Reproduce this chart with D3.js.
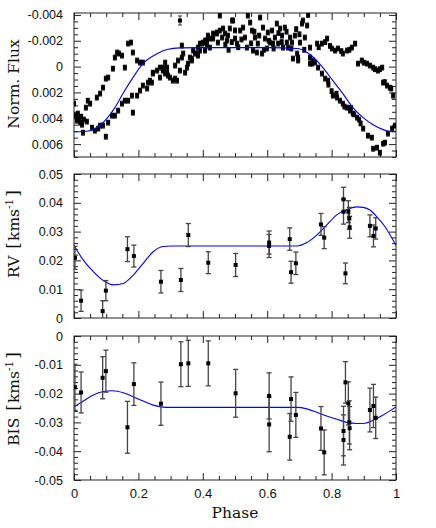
<!DOCTYPE html>
<html>
<head>
<meta charset="utf-8">
<script src="https://cdn.jsdelivr.net/npm/d3@7/dist/d3.min.js"></script>
<style>
  html, body { margin: 0; padding: 0; background: #fff; }
  svg { display: block; }
</style>
</head>
<body>
<div id="chart"></div>
<script>
// ---------------- DATA ----------------
// Photometry (normalised flux vs phase)
const fluxPhase = [
  0.000,0.006,0.009,0.012,0.016,0.019,0.022,0.025,0.028,0.031,0.037,0.043,0.050,0.040,0.056,0.065,0.075,0.081,0.090,0.099,
  0.071,0.081,0.090,0.099,0.106,0.121,0.127,0.134,0.140,0.149,0.158,0.168,0.177,0.183,0.196,0.205,0.214,
  0.106,0.118,0.127,0.137,0.149,0.158,0.168,0.180,0.183,0.196,0.205,0.214,0.227,0.230,0.236,0.242,0.245,0.258,0.267,0.276,
  0.283,0.289,0.298,0.307,0.314,0.320,0.329,0.335,0.345,0.354,0.366,0.376,0.385,0.391,0.398,0.407,0.413,0.422,0.432,0.444,
  0.245,0.267,0.276,0.283,0.289,0.292,0.314,0.323,0.335,0.339,0.351,0.360,0.366,0.370,0.382,0.385,0.391,0.401,0.407,0.413,
  0.416,0.422,0.432,0.444,0.447,0.453,0.460,0.463,0.469,0.475,0.478,0.484,0.491,0.453,
  0.494,0.500,0.506,0.516,0.525,0.531,0.537,0.540,0.547,0.553,0.556,0.562,0.568,0.571,0.578,0.584,0.587,0.593,0.599,0.602,
  0.609,0.615,0.618,0.624,0.630,0.634,0.640,0.646,0.649,0.655,0.661,0.665,0.671,0.677,0.680,0.686,0.693,0.696,0.702,0.708,
  0.711,0.717,0.724,0.727,0.733,0.739,0.742,
  0.470,0.480,0.490,0.500,0.510,0.520,0.550,0.560,0.575,0.590,0.605,0.620,0.635,0.645,0.660,0.675,0.690,0.700,0.715,
  0.696,0.733,0.748,0.758,0.770,0.780,0.789,0.804,0.817,0.826,0.835,0.848,0.857,0.866,0.879,0.898,0.913,0.925,0.929,0.941,
  0.950,0.960,0.966,0.975,0.988,0.997,
  0.733,0.755,0.770,0.786,0.801,0.811,0.820,0.835,0.848,0.863,0.873,0.882,0.894,0.910,0.919,0.929,0.944,0.957,0.960,0.972,
  0.981,0.991,
  0.790,0.800,0.815,0.840,0.860,0.870,0.885,0.890,
  0.760,0.780,0.795,0.830,0.855,0.900,0.935,0.950,0.965,0.985
];
const fluxValue = [
  0.00287,0.00380,0.00419,0.00364,0.00403,0.00434,0.00388,0.00450,0.00512,0.00410,0.00318,0.00264,0.00287,0.00426,0.00473,0.00496,0.00480,0.00457,0.00457,0.00543,
  0.00240,0.00209,0.00163,0.00093,0.00085,0.00016,-0.00070,-0.00109,-0.00101,-0.00085,0.00008,-0.00178,-0.00186,-0.00109,-0.00047,-0.00031,-0.00031,
  0.00434,0.00380,0.00380,0.00341,0.00287,0.00264,0.00264,0.00225,0.00357,0.00225,0.00186,0.00147,0.00170,0.00124,0.00109,0.00124,0.00047,0.00031,0.00008,0.00031,
  0.00054,0.00008,0.00085,0.00109,0.00093,0.00109,0.00031,-0.00070,0.00047,-0.00023,-0.00062,-0.00101,-0.00085,-0.00124,-0.00178,-0.00202,-0.00163,-0.00217,-0.00256,-0.00264,
  0.00054,0.00085,0.00008,-0.00031,0.00047,0.00070,-0.00008,-0.00047,-0.00163,-0.00101,0.00008,-0.00070,-0.00047,-0.00124,-0.00101,-0.00147,-0.00178,-0.00186,-0.00124,-0.00202,
  -0.00240,-0.00147,-0.00217,-0.00256,-0.00186,-0.00279,-0.00225,-0.00295,-0.00256,-0.00202,-0.00240,-0.00295,-0.00357,-0.00395,
  -0.00357,-0.00217,-0.00178,-0.00279,-0.00302,-0.00225,-0.00147,-0.00395,-0.00341,-0.00279,-0.00124,-0.00225,-0.00109,-0.00178,-0.00380,-0.00101,-0.00302,-0.00217,-0.00140,-0.00264,
  -0.00186,-0.00279,-0.00178,-0.00225,-0.00333,-0.00178,-0.00295,-0.00240,-0.00147,-0.00302,-0.00186,-0.00147,-0.00225,-0.00186,-0.00062,-0.00240,-0.00101,-0.00070,-0.00186,-0.00333,
  -0.00357,-0.00225,-0.00318,-0.00400,-0.00070,-0.00023,-0.00047,
  -0.00170,-0.00130,-0.00190,-0.00280,-0.00150,-0.00210,-0.00180,-0.00270,-0.00240,-0.00130,-0.00200,-0.00140,-0.00260,-0.00190,-0.00270,-0.00140,-0.00290,-0.00250,-0.00130,
  -0.00047,-0.00023,-0.00031,0.00008,0.00054,0.00093,0.00109,0.00225,0.00240,0.00264,0.00287,0.00318,0.00341,0.00364,0.00395,0.00480,0.00535,0.00550,0.00636,0.00628,
  0.00667,0.00597,0.00589,0.00519,0.00480,0.00457,
  -0.00147,-0.00178,-0.00178,-0.00217,-0.00140,-0.00124,-0.00140,-0.00101,-0.00124,-0.00147,-0.00178,-0.00023,-0.00047,-0.00023,-0.00008,0.00008,0.00031,0.00008,0.00124,0.00147,
  0.00163,0.00225,
  0.00140,0.00190,0.00210,0.00310,0.00320,0.00370,0.00410,0.00440,
  -0.00150,-0.00190,-0.00160,-0.00120,-0.00130,-0.00030,0.00020,0.00020,0.00120,0.00170
];
const fluxErr = 0.00018;
// outlier with a larger error bar
const fluxOutlierPhase = [0.329];
const fluxOutlierValue = [-0.00357];
const fluxOutlierErr = [0.00035];

// Model for the photometry
const fluxModelPhase = [0,0.034,0.071,0.102,0.127,0.152,0.183,0.214,0.258,0.289,0.329,0.40,0.5,0.6,0.693,0.724,0.748,0.773,0.804,0.835,0.866,0.898,0.929,0.96,0.981,1];
const fluxModel = [0.00505,0.00503,0.00473,0.00403,0.00318,0.00209,0.00085,-0.00023,-0.00100,-0.00132,-0.00145,-0.00147,-0.00147,-0.00147,-0.00140,-0.00109,-0.00062,0.00008,0.00109,0.00209,0.00318,0.00395,0.00450,0.00488,0.00503,0.00505];

// Spectroscopic epochs (shared by RV and BIS)
const specPhase = [0.003,0.022,0.089,0.099,0.166,0.186,0.270,0.332,0.355,0.417,0.502,0.606,0.606,0.670,0.674,0.689,0.767,0.777,0.837,0.837,0.843,0.852,0.855,0.856,0.919,0.930,0.937];
const rvValue = [0.0209,0.0060,0.0024,0.0095,0.0239,0.0215,0.0126,0.0132,0.0288,0.0192,0.0184,0.0262,0.0250,0.0274,0.0159,0.0190,0.0325,0.0279,0.0412,0.0369,0.0155,0.0369,0.0346,0.0315,0.0320,0.0285,0.0311];
const rvErr = [0.0040,0.0037,0.0036,0.0035,0.0043,0.0038,0.0039,0.0040,0.0040,0.0038,0.0040,0.0040,0.0040,0.0039,0.0038,0.0039,0.0038,0.0038,0.0042,0.0043,0.0036,0.0038,0.0038,0.0038,0.0038,0.0038,0.0037];
const bisValue = [-0.0178,-0.0196,-0.0145,-0.0122,-0.0317,-0.0167,-0.0235,-0.0098,-0.0095,-0.0095,-0.0199,-0.0208,-0.0307,-0.0350,-0.0219,-0.0274,-0.0321,-0.0404,-0.0330,-0.0361,-0.0161,-0.0234,-0.0300,-0.0320,-0.0257,-0.0243,-0.0284];
const bisErr = [0.0080,0.0071,0.0073,0.0073,0.0090,0.0074,0.0075,0.0078,0.0080,0.0078,0.0083,0.0080,0.0095,0.0081,0.0077,0.0078,0.0076,0.0078,0.0086,0.0087,0.0072,0.0075,0.0075,0.0075,0.0076,0.0075,0.0072];

const rvModelPhase = [0,0.029,0.06,0.091,0.122,0.153,0.184,0.215,0.246,0.277,0.3,0.5,0.692,0.723,0.754,0.785,0.816,0.847,0.878,0.898,0.919,0.94,0.966,0.992,1];
const rvModel = [0.0252,0.0201,0.0161,0.0130,0.0115,0.0120,0.0149,0.0190,0.0230,0.0248,0.0250,0.0250,0.0250,0.0262,0.0288,0.0323,0.0358,0.0377,0.0386,0.0384,0.0375,0.0352,0.0317,0.0268,0.0252];

const bisModelPhase = [0,0.029,0.06,0.091,0.12,0.153,0.184,0.215,0.246,0.277,0.3,0.5,0.692,0.723,0.754,0.785,0.816,0.847,0.878,0.904,0.93,0.956,0.981,1];
const bisModel = [-0.0246,-0.0226,-0.0205,-0.0193,-0.0190,-0.0197,-0.0211,-0.0226,-0.0240,-0.0247,-0.0248,-0.0248,-0.0248,-0.0253,-0.0265,-0.0278,-0.0289,-0.0300,-0.0304,-0.0303,-0.0292,-0.0277,-0.0260,-0.0246];

// Tick labels
const xTickValues = [0,0.2,0.4,0.6,0.8,1];
const xTickLabels = ["0","0.2","0.4","0.6","0.8","1"];
const fluxTickValues = [-0.004,-0.002,0,0.002,0.004,0.006];
const fluxTickLabels = ["-0.004","-0.002","0","0.002","0.004","0.006"];
const rvTickValues = [0,0.01,0.02,0.03,0.04,0.05];
const rvTickLabels = ["0","0.01","0.02","0.03","0.04","0.05"];
const bisTickValues = [0,-0.01,-0.02,-0.03,-0.04,-0.05];
const bisTickLabels = ["0","-0.01","-0.02","-0.03","-0.04","-0.05"];

// ---------------- LAYOUT ----------------
const W = 436, H = 528;
const X0 = 74, X1 = 396;
const svg = d3.select("#chart").append("svg").attr("width", W).attr("height", H);
svg.append("rect").attr("width", W).attr("height", H).attr("fill", "#fff");

const x = d3.scaleLinear().domain([0, 1]).range([X0, X1]);

const panels = [
  { id: "flux", top: 13, bottom: 157, domain: [0.0070, -0.00415], majors: fluxTickValues, labels: fluxTickLabels, minorStep: 0.0005,
    title: "Norm. Flux", titleY: 84 },
  { id: "rv", top: 174, bottom: 318, domain: [0, 0.05], majors: rvTickValues, labels: rvTickLabels, minorStep: 0.002,
    title: "RV", titleY: 234 },
  { id: "bis", top: 336, bottom: 480, domain: [-0.05, 0], majors: bisTickValues, labels: bisTickLabels, minorStep: 0.002,
    title: "BIS", titleY: 399 }
];

const axisColor = "#222";
const labelFont = "'Liberation Sans', Arial, Helvetica, sans-serif";
const titleFont = "'DejaVu Serif', 'Liberation Serif', serif";

panels.forEach((P, i) => {
  const y = d3.scaleLinear().domain(P.domain).range([P.bottom, P.top]);
  P.y = y;
  const g = svg.append("g");

  svg.append("clipPath").attr("id", "clip-" + P.id)
    .append("rect").attr("x", X0).attr("y", P.top).attr("width", X1 - X0).attr("height", P.bottom - P.top);

  const lo = Math.min(...P.domain), hi = Math.max(...P.domain);
  const minors = d3.range(Math.ceil(lo / P.minorStep - 1e-6), Math.floor(hi / P.minorStep + 1e-6) + 1)
    .map(k => k * P.minorStep)
    .filter(v => !P.majors.some(m => Math.abs(m - v) < P.minorStep / 10));
  const xMinors = d3.range(0, 21).map(k => k * 0.05).filter(v => !xTickValues.some(m => Math.abs(m - v) < 0.001));

  const left = d3.axisLeft(y).tickValues(P.majors).tickSize(-7).tickPadding(11)
    .tickFormat((d, k) => P.labels[k]);
  const gl = g.append("g").attr("transform", `translate(${X0},0)`).call(left);
  gl.select(".domain").remove();
  gl.selectAll("line").attr("stroke", axisColor);
  gl.selectAll("text").attr("font-family", labelFont).attr("font-size", 12.5).attr("fill", "#111");
  g.append("g").attr("transform", `translate(${X0},0)`)
    .call(d3.axisLeft(y).tickValues(minors).tickSize(-4).tickFormat(""))
    .call(s => { s.select(".domain").remove(); s.selectAll("line").attr("stroke", axisColor); });

  g.append("g").attr("transform", `translate(${X1},0)`)
    .call(d3.axisRight(y).tickValues(P.majors).tickSize(-7).tickFormat(""))
    .call(s => { s.select(".domain").remove(); s.selectAll("line").attr("stroke", axisColor); });
  g.append("g").attr("transform", `translate(${X1},0)`)
    .call(d3.axisRight(y).tickValues(minors).tickSize(-4).tickFormat(""))
    .call(s => { s.select(".domain").remove(); s.selectAll("line").attr("stroke", axisColor); });

  const isLast = i === panels.length - 1;
  const bottom = d3.axisBottom(x).tickValues(xTickValues).tickSize(-7).tickPadding(9)
    .tickFormat(isLast ? ((d, k) => xTickLabels[k]) : "");
  const gb = g.append("g").attr("transform", `translate(0,${P.bottom})`).call(bottom);
  gb.select(".domain").remove();
  gb.selectAll("line").attr("stroke", axisColor);
  gb.selectAll("text").attr("font-family", labelFont).attr("font-size", 13).attr("fill", "#111");
  g.append("g").attr("transform", `translate(0,${P.bottom})`)
    .call(d3.axisBottom(x).tickValues(xMinors).tickSize(-4).tickFormat(""))
    .call(s => { s.select(".domain").remove(); s.selectAll("line").attr("stroke", axisColor); });

  g.append("g").attr("transform", `translate(0,${P.top})`)
    .call(d3.axisTop(x).tickValues(xTickValues).tickSize(-7).tickFormat(""))
    .call(s => { s.select(".domain").remove(); s.selectAll("line").attr("stroke", axisColor); });
  g.append("g").attr("transform", `translate(0,${P.top})`)
    .call(d3.axisTop(x).tickValues(xMinors).tickSize(-4).tickFormat(""))
    .call(s => { s.select(".domain").remove(); s.selectAll("line").attr("stroke", axisColor); });

  g.append("rect").attr("x", X0).attr("y", P.top).attr("width", X1 - X0).attr("height", P.bottom - P.top)
    .attr("fill", "none").attr("stroke", axisColor).attr("stroke-width", 1);

  const t = svg.append("text")
    .attr("transform", `translate(19,${P.titleY}) rotate(-90)`)
    .attr("text-anchor", "middle")
    .attr("font-family", titleFont).attr("font-size", 15.5).attr("fill", "#111");
  if (P.id === "flux") {
    t.text(P.title);
  } else {
    t.append("tspan").text(P.title + " ");
    t.append("tspan").attr("dx", 2).attr("font-size", 17).text("[");
    t.append("tspan").attr("dx", 1).text("kms");
    t.append("tspan").attr("dy", -6).attr("font-size", 10.5).text("-1");
    t.append("tspan").attr("dy", 6).attr("dx", 2).attr("font-size", 17).text("]");
  }
});

svg.append("text").attr("x", 235).attr("y", 518).attr("text-anchor", "middle")
  .attr("font-family", titleFont).attr("font-size", 15.5).attr("fill", "#111").text("Phase");

// ---------------- MARKS ----------------
function errorPoints(P, phases, vals, errs, opts) {
  const g = svg.append("g").attr("clip-path", `url(#clip-${P.id})`);
  const y = P.y;
  const idx = d3.range(phases.length);
  const errOf = k => (Array.isArray(errs) ? errs[k] : errs);
  const eg = g.append("g").attr("stroke", opts.barColor).attr("stroke-width", opts.barWidth).attr("fill", "none");
  idx.forEach(k => {
    const cx = x(phases[k]);
    const y1 = y(vals[k] - errOf(k)), y2 = y(vals[k] + errOf(k));
    eg.append("line").attr("x1", cx).attr("x2", cx).attr("y1", y1).attr("y2", y2);
    eg.append("line").attr("x1", cx - opts.cap).attr("x2", cx + opts.cap).attr("y1", y1).attr("y2", y1);
    eg.append("line").attr("x1", cx - opts.cap).attr("x2", cx + opts.cap).attr("y1", y2).attr("y2", y2);
  });
  g.append("g").selectAll("rect").data(idx).join("rect")
    .attr("x", k => x(phases[k]) - opts.size / 2)
    .attr("y", k => y(vals[k]) - opts.size / 2)
    .attr("width", opts.size).attr("height", opts.size)
    .attr("fill", "#000");
}

function model(P, phases, vals) {
  const line = d3.line().x((d, k) => x(phases[k])).y((d, k) => P.y(vals[k])).curve(d3.curveMonotoneX);
  svg.append("path").attr("clip-path", `url(#clip-${P.id})`)
    .attr("d", line(vals)).attr("fill", "none").attr("stroke", "#0000ff").attr("stroke-width", 1.1);
}

const [PF, PR, PB] = panels;
errorPoints(PF, fluxPhase, fluxValue, fluxErr, { barColor: "#111", barWidth: 1.2, cap: 2, size: 4 });
errorPoints(PF, fluxOutlierPhase, fluxOutlierValue, fluxOutlierErr, { barColor: "#333", barWidth: 1, cap: 2, size: 4 });
model(PF, fluxModelPhase, fluxModel);

model(PR, rvModelPhase, rvModel);
errorPoints(PR, specPhase, rvValue, rvErr, { barColor: "#444", barWidth: 1.3, cap: 2.5, size: 4 });

model(PB, bisModelPhase, bisModel);
errorPoints(PB, specPhase, bisValue, bisErr, { barColor: "#444", barWidth: 1.3, cap: 2.5, size: 4 });
</script>
</body>
</html>
